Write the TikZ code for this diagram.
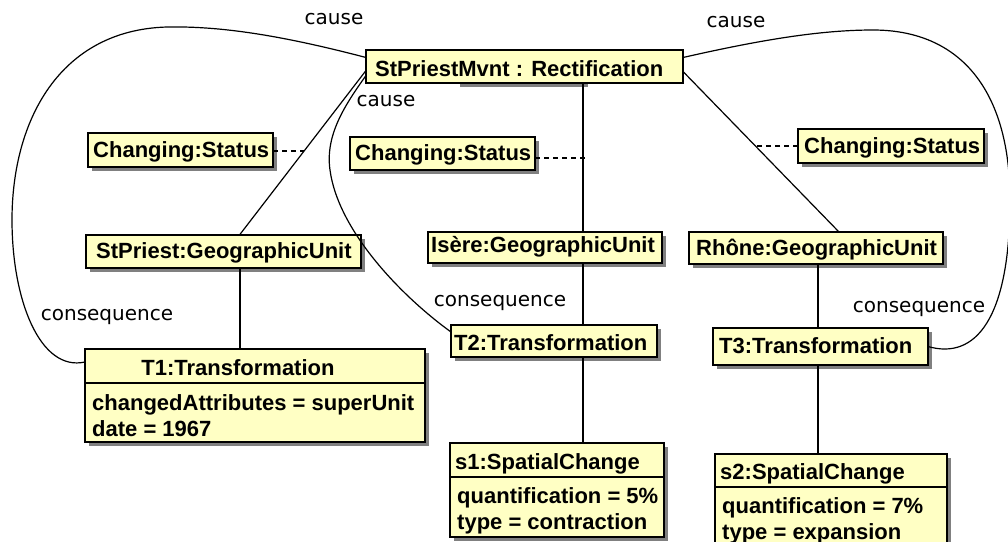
\documentclass[tikz,border=0pt]{standalone}
\usepackage{fontspec}
\usetikzlibrary{shadows}
\newfontfamily\boxfam{Liberation Sans}
\newfontfamily\lblfam{DejaVu Sans}
\newcommand{\boxf}{\boxfam\bfseries\fontsize{22}{26}\selectfont}
\newcommand{\lblf}{\lblfam\fontsize{20}{24}\selectfont}
\definecolor{boxfill}{RGB}{255,255,196}
\definecolor{shadowgray}{RGB}{128,128,128}
\tikzset{
  box/.style={draw, line width=1.5pt, fill=boxfill, inner sep=0pt, outer sep=0pt, anchor=north west,
    general shadow={fill=shadowgray, shadow xshift=4pt, shadow yshift=-4pt}},
  btxt/.style={anchor=base west, inner sep=0pt, font=\boxf},
  lbl/.style={font=\lblf, inner sep=0pt},
  conn/.style={line width=1.2pt},
  dconn/.style={line width=1.1pt, dash pattern=on 5pt off 4pt}
}
\begin{document}
\begin{tikzpicture}[x=1pt,y=-1pt]
\useasboundingbox (0,0) rectangle (1008,541);
% main box
\fill[shadowgray] (460,80) rectangle (588,87);
\node[draw, line width=1.5pt, fill=boxfill, inner sep=0pt, outer sep=0pt, anchor=north west,
  minimum width=317pt, minimum height=33pt] (main) at (366,50) {};
\node[btxt] (maint) at (375,76) {StPriestMvnt : Rectification};
% status boxes
\node[box, minimum width=185pt, minimum height=34pt] (cs1) at (88,133) {};
\node[btxt] (cs1t) at (93,157) {Changing:Status};
\node[box, minimum width=185pt, minimum height=33pt] (cs2) at (350,137) {};
\node[btxt] (cs2t) at (355,160) {Changing:Status};
\node[box, minimum width=186pt, minimum height=34pt] (cs3) at (798,129) {};
\node[btxt] (cs3t) at (804,153) {Changing:Status};
% geographic units
\node[box, minimum width=275pt, minimum height=33pt] (stp) at (86,235) {};
\node[btxt] (stpt) at (96,258) {StPriest:GeographicUnit};
\node[box, minimum width=234pt, minimum height=31pt] (isere) at (428,232) {};
\node[btxt] (isret) at (431,252) {Isère:GeographicUnit};
\node[box, minimum width=254pt, minimum height=32pt] (rhone) at (689,232) {};
\node[btxt] (rhonet) at (696,255) {Rhône:GeographicUnit};
% transformations
\node[box, minimum width=206pt, minimum height=32pt] (T2) at (451,325) {};
\node[btxt] (T2t) at (454,350) {T2:Transformation};
\node[box, minimum width=215pt, minimum height=37pt] (T3) at (713,328) {};
\node[btxt] (T3t) at (719,353) {T3:Transformation};
\node[box, minimum width=340pt, minimum height=93pt] (T1) at (85,349) {};
\node[btxt, anchor=base] (T1t) at (238,375) {T1:Transformation};
\node[btxt] (T1a) at (92,410) {changedAttributes = superUnit};
\node[btxt] (T1b) at (92,436) {date = 1967};
\draw[line width=1.2pt] ([yshift=-34pt]T1.north west) -- ([yshift=-34pt]T1.north east);
% spatial changes
\node[box, minimum width=214pt, minimum height=94pt] (s1) at (450,443) {};
\node[btxt] (s1t) at (455,469) {s1:SpatialChange};
\node[btxt] (s1a) at (457,503) {quantification = 5\%};
\node[btxt] (s1b) at (457,529) {type = contraction};
\draw[line width=1.2pt] ([yshift=-34pt]s1.north west) -- ([yshift=-34pt]s1.north east);
\node[box, minimum width=232pt, minimum height=106pt] (s2) at (715,454) {};
\node[btxt] (s2t) at (720,479) {s2:SpatialChange};
\node[btxt] (s2a) at (722,513) {quantification = 7\%};
\node[btxt] (s2b) at (722,539) {type = expansion};
\draw[line width=1.2pt] ([yshift=-33pt]s2.north west) -- ([yshift=-33pt]s2.north east);
% connectors
\draw[conn] ([yshift=-4pt]main.west) -- ([xshift=16pt]stp.north);
\draw[conn] ([yshift=-9pt]main.west) .. controls (345,105) and (325,135) .. (330,170)
  .. controls (338,230) and (400,295) .. ([yshift=-7pt]T2.north west);
\draw[conn] (main.south -| 583,0) -- (isere.north -| 583,0);
\draw[conn] ([yshift=-5pt]main.east) -- ([xshift=23pt]rhone.north);
\draw[conn] ([yshift=9pt]main.west) .. controls (280,35) and (220,26) .. (167,27)
  .. controls (60,30) and (12,120) .. (12,220)
  .. controls (12,300) and (40,372) .. ([yshift=-13pt]T1.north west);
\draw[conn] ([yshift=9pt]main.east) .. controls (760,40) and (820,30) .. (873,30)
  .. controls (960,30) and (1010,90) .. (1010,200)
  .. controls (1010,320) and (975,360) .. (T3.east);
\draw[conn] (stp.south -| 240,0) -- (T1.north -| 240,0);
\draw[conn] (isere.south -| 583,0) -- (T2.north -| 583,0);
\draw[conn] (T2.south -| 583,0) -- (s1.north -| 583,0);
\draw[conn] (rhone.south -| 818,0) -- (T3.north -| 818,0);
\draw[conn] (T3.south -| 818,0) -- (s2.north -| 818,0);
\coordinate (d1) at (304,151);
\coordinate (d2) at (588,158);
\coordinate (d3) at (757,146);
\draw[dconn] (cs1.east |- d1) -- (d1);
\draw[dconn] (cs2.east |- d2) -- (d2);
\draw[dconn] (cs3.west |- d3) -- (d3);
% labels
\node[lbl] (l1) at (334,19) {cause};
\node[lbl] (l2) at (736,22) {cause};
\node[lbl] (l3) at (386,101) {cause};
\node[lbl] (l4) at (107,317) {consequence};
\node[lbl] (l5) at (500,303) {consequence};
\node[lbl] (l6) at (919,309) {consequence};
\end{tikzpicture}
\end{document}
